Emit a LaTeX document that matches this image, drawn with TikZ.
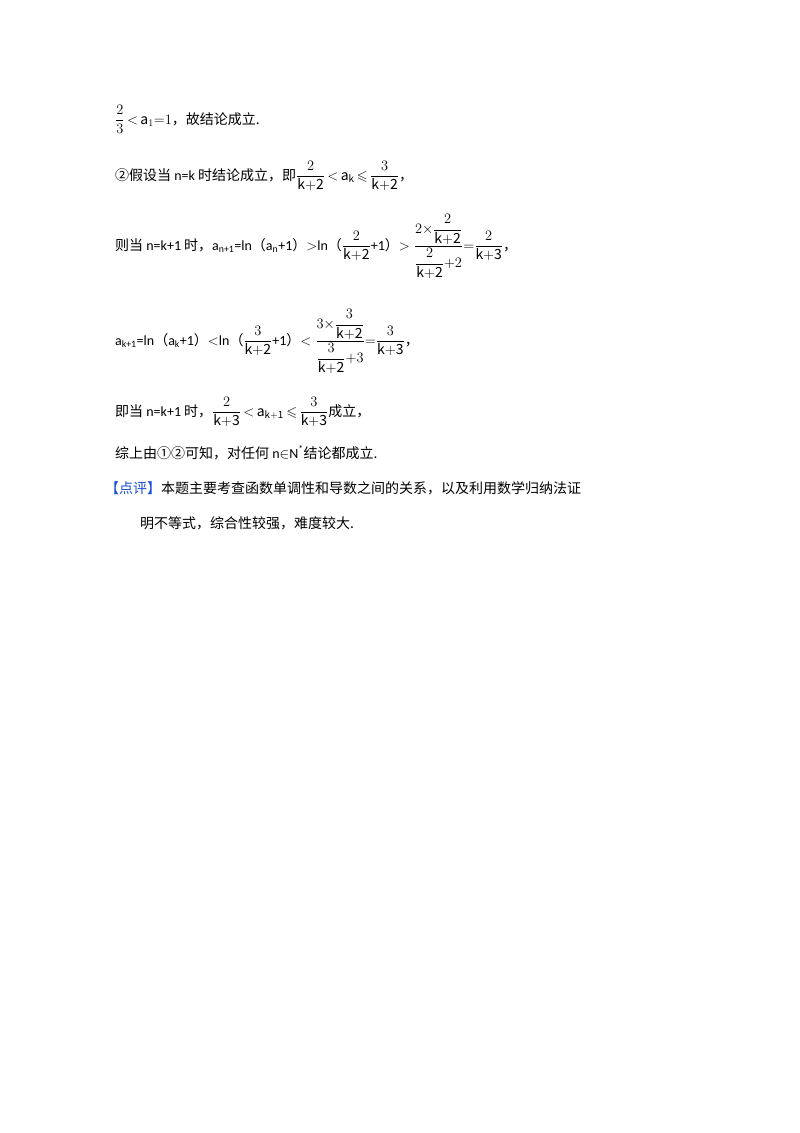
\documentclass[tikz,border=0pt]{standalone}
\usepackage{amsmath,amssymb}
\usepackage{fontspec}
\setmainfont{Noto Sans CJK SC}
\newfontfamily\latin{Carlito}
\begin{document}
\begin{tikzpicture}[x=1pt,y=-1pt,t/.style={anchor=base west,inner sep=0pt,font=\fontsize{14}{16}\selectfont}]
\useasboundingbox[fill=white] (0,0) rectangle (800,1133);
\node[t] (l1) at (115,124) {$\dfrac{2}{3}\,{<}\,\mathrm{a}_1{=}1$，故结论成立.};
\node[t] (l2) at (115,180) {②假设当 {\latin n=k} 时结论成立，即$\dfrac{2}{\mathrm{k{+}2}}\,{<}\,\mathrm{a}_\mathrm{k}\,{\leqslant}\,\dfrac{3}{\mathrm{k{+}2}}$，};
\node[t] (l3) at (115,250) {则当 {\latin n=k+1} 时，{\latin a\textsubscript{n+1}=ln}（{\latin a\textsubscript{n}+1}）$>${\latin ln}（$\dfrac{2}{\mathrm{k{+}2}}${\latin +1}）$>\dfrac{2{\times}\dfrac{2}{\mathrm{k{+}2}}}{\dfrac{2}{\mathrm{k{+}2}}{+}2}{=}\dfrac{2}{\mathrm{k{+}3}}$，};
\node[t] (l4) at (115,345) {{\latin a\textsubscript{k+1}=ln}（{\latin a\textsubscript{k}+1}）$<${\latin ln}（$\dfrac{3}{\mathrm{k{+}2}}${\latin +1}）$<\dfrac{3{\times}\dfrac{3}{\mathrm{k{+}2}}}{\dfrac{3}{\mathrm{k{+}2}}{+}3}{=}\dfrac{3}{\mathrm{k{+}3}}$，};
\node[t] (l5) at (115,416) {即当 {\latin n=k+1} 时，$\dfrac{2}{\mathrm{k{+}3}}\,{<}\,\mathrm{a}_\mathrm{k+1}\,{\leqslant}\,\dfrac{3}{\mathrm{k{+}3}}$成立，};
\node[t] (l6) at (115,458) {综上由①②可知，对任何 {\latin n$\in$N\textsuperscript{*}}结论都成立.};
\node[t] (l7) at (105,493) {{\color[rgb]{0.1,0.3,0.85}【点评】}本题主要考查函数单调性和导数之间的关系，以及利用数学归纳法证};
\node[t] (l8) at (140,528) {明不等式，综合性较强，难度较大.};
\end{tikzpicture}
\end{document}
